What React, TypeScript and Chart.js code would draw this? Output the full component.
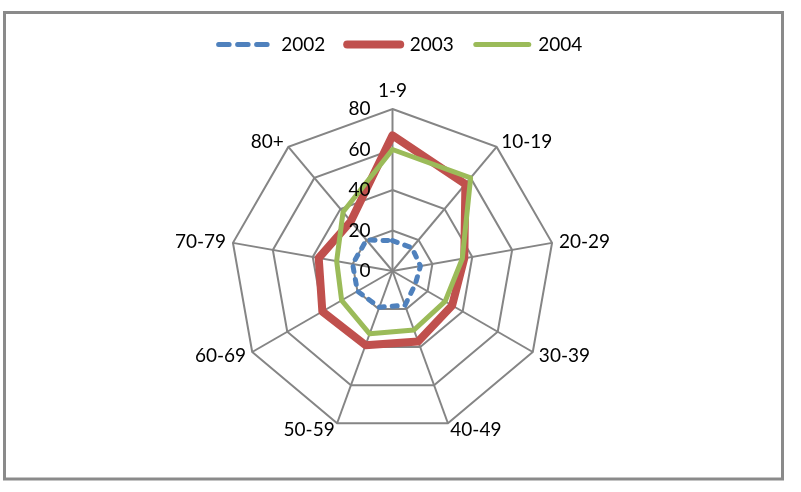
import React, { useEffect, useRef } from 'react';
import { Chart, registerables } from 'chart.js';

Chart.register(...registerables);

const categories = ['1-9', '10-19', '20-29', '30-39', '40-49', '50-59', '60-69', '70-79', '80+'];
const series2002 = [15, 15, 14, 13, 18, 19, 20, 20, 20];
const series2003 = [67, 56, 36, 34, 37, 39, 40, 37, 32];
const series2004 = [60, 60, 35, 30, 31, 33, 29, 28, 38];
const tickValues = [0, 20, 40, 60, 80];
const seriesNames = ['2002', '2003', '2004'];

const FONT = 'Lato, "Noto Sans", sans-serif';
const GRID = '#858585';

const framePlugin = {
  id: 'frame',
  beforeDraw(chart: any) {
    const ctx = chart.ctx;
    ctx.save();
    ctx.fillStyle = '#ffffff';
    ctx.fillRect(0, 0, chart.width, chart.height);
    ctx.strokeStyle = '#8a8a8a';
    ctx.lineWidth = 3;
    ctx.strokeRect(4.5, 12.5, 778, 466.5);
    ctx.restore();
  },
};

const labelPlugin = {
  id: 'radarLabels',
  afterDraw(chart: any) {
    const s = chart.scales.r;
    const ctx = chart.ctx;
    ctx.save();
    ctx.font = `19px ${FONT}`;
    ctx.fillStyle = '#000';
    ctx.textBaseline = 'middle';
    ctx.textAlign = 'right';
    tickValues.forEach((v) => {
      const d = s.getDistanceFromCenterForValue(v);
      ctx.fillText(String(v), s.xCenter - 22, s.yCenter - d);
    });
    const outer = s.getDistanceFromCenterForValue(s.max);
    categories.forEach((c, i) => {
      const a = s.getIndexAngle(i);
      const sin = Math.sin(a);
      const cos = Math.cos(a);
      const p = s.getPointPosition(i, outer + 7);
      let align: CanvasTextAlign = 'center';
      if (sin > 0.05) align = 'left';
      else if (sin < -0.05) align = 'right';
      let y = p.y;
      if (align === 'center') y += cos > 0 ? -11 : 11;
      ctx.textAlign = align;
      ctx.fillText(c, p.x, y);
    });
    ctx.restore();
  },
};

export default function App() {
  const ref = useRef<HTMLCanvasElement>(null);

  useEffect(() => {
    Chart.defaults.font.family = FONT;
    const chart = new Chart(ref.current!, {
      type: 'radar',
      data: {
        labels: categories,
        datasets: [
          {
            label: seriesNames[0],
            data: series2002,
            borderColor: '#4F81BD',
            backgroundColor: '#4F81BD',
            borderWidth: 5,
            borderDash: [5, 8],
            borderCapStyle: 'round',
            borderJoinStyle: 'round',
            pointRadius: 0,
            fill: false,
            order: 2,
            clip: false as any,
          },
          {
            label: seriesNames[1],
            data: series2003,
            borderColor: '#C0504D',
            backgroundColor: '#C0504D',
            borderWidth: 8,
            borderCapStyle: 'round',
            borderJoinStyle: 'round',
            pointRadius: 0,
            fill: false,
            order: 1,
            clip: false as any,
          },
          {
            label: seriesNames[2],
            data: series2004,
            borderColor: '#9BBB59',
            backgroundColor: '#9BBB59',
            borderWidth: 5,
            borderCapStyle: 'round',
            borderJoinStyle: 'round',
            pointRadius: 0,
            fill: false,
            order: 0,
            clip: false as any,
          },
        ],
      },
      options: {
        responsive: false,
        animation: false,
        devicePixelRatio: 1,
        events: [],
        layout: { padding: { top: 13 } },
        plugins: {
          tooltip: { enabled: false },
          legend: {
            position: 'top',
            labels: {
              font: { family: FONT, size: 19 },
              color: '#000',
              usePointStyle: true,
              pointStyleWidth: 53,
              padding: 22,
              sort: (a: any, b: any) => a.datasetIndex - b.datasetIndex,
              generateLabels: (ch: any) => {
                const items = (Chart.defaults.plugins.legend.labels as any).generateLabels(ch);
                return items.map((it: any) => ({
                  ...it,
                  pointStyle: 'line',
                  lineCap: 'round',
                  lineDash: it.datasetIndex === 0 ? [10.5, 8.5] : [],
                  fontColor: '#000',
                }));
              },
            },
          },
        },
        scales: {
          r: {
            min: 0,
            max: 80,
            ticks: { stepSize: 20, display: false },
            grid: { color: GRID, lineWidth: 2 },
            angleLines: { color: GRID, lineWidth: 2 },
            pointLabels: { display: false },
            afterFit: (s: any) => {
              s.xCenter = 392.5;
              s.yCenter = 271;
              s.drawingArea = 162;
            },
          } as any,
        },
      },
      plugins: [framePlugin, labelPlugin],
    });
    return () => chart.destroy();
  }, []);

  return (
    <div style={{ position: 'fixed', left: 0, top: 0, width: 801, height: 492, background: '#fff' }}>
      <canvas ref={ref} width={801} height={492} style={{ display: 'block', width: 801, height: 492 }} />
    </div>
  );
}
